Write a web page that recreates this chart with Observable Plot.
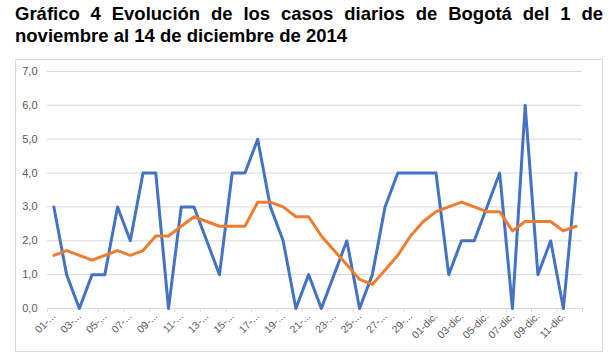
<!DOCTYPE html>
<html>
<head>
<meta charset="utf-8">
<script src="https://cdn.jsdelivr.net/npm/d3@7"></script>
<script src="https://cdn.jsdelivr.net/npm/@observablehq/plot@0.6"></script>
<style>
  html, body { margin: 0; padding: 0; background: #fff; }
  body { width: 614px; height: 361px; position: relative; overflow: hidden; }
  #title { position: absolute; left: 15px; top: 3px; width: 588px;
    font-family: "Liberation Sans", Arial, sans-serif; font-weight: bold; font-size: 18.5px;
    line-height: 22px; color: #000; }
  #title .l1 { text-align: justify; text-align-last: justify; white-space: nowrap; }
  #frame { position: absolute; left: 15px; top: 59px; width: 588px; height: 293px;
    box-sizing: border-box; border: 1px solid #d9d9d9; }
  #chart { position: absolute; left: 0; top: 59px; }
</style>
</head>
<body>
<div id="title"><div class="l1">Gráfico 4 Evolución de los casos diarios de Bogotá del 1 de</div><div>noviembre al 14 de diciembre de 2014</div></div>
<div id="frame"></div>
<div id="chart"></div>
<script>
// Categorías (días)
const dias = [
  "01-nov.","02-nov.","03-nov.","04-nov.","05-nov.","06-nov.","07-nov.","08-nov.","09-nov.","10-nov.",
  "11-nov.","12-nov.","13-nov.","14-nov.","15-nov.","16-nov.","17-nov.","18-nov.","19-nov.","20-nov.",
  "21-nov.","22-nov.","23-nov.","24-nov.","25-nov.","26-nov.","27-nov.","28-nov.","29-nov.","30-nov.",
  "01-dic.","02-dic.","03-dic.","04-dic.","05-dic.","06-dic.","07-dic.","08-dic.","09-dic.","10-dic.",
  "11-dic.","12-dic."
];
// Casos diarios (azul)
const casos = [3,1,0,1,1,3,2,4,4,0,3,3,2,1,4,4,5,3,2,0,1,0,1,2,0,1,3,4,4,4,4,1,2,2,3,4,0,6,1,2,0,4];
// Promedio móvil (naranja)
const media = [1.57,1.71,1.57,1.43,1.57,1.71,1.57,1.71,2.14,2.14,2.43,2.71,2.57,2.43,2.43,2.43,3.14,3.14,3.00,2.71,
  2.71,2.14,1.71,1.29,0.86,0.71,1.14,1.57,2.14,2.57,2.86,3.00,3.14,3.00,2.86,2.86,2.29,2.57,2.57,2.57,2.29,2.43];
// Etiquetas visibles del eje X
const etiquetas = ["01-...","03-...","05-...","07-...","09-...","11-...","13-...","15-...","17-...","19-...",
  "21-...","23-...","25-...","27-...","29-...","01-dic.","03-dic.","05-dic.","07-dic.","09-dic.","11-dic."];
const yTicks = [0,1,2,3,4,5,6,7];

const rows = dias.map((d, i) => ({i, dia: d, casos: casos[i], media: media[i]}));
const labelIdx = etiquetas.map((_, k) => k * 2);
const bounds = labelIdx.map(i => i - 0.5).concat([dias.length - 0.5]);
const gray = "#595959";

const chart = Plot.plot({
  width: 614,
  height: 293,
  marginLeft: 47,
  marginRight: 32,
  marginTop: 12,
  marginBottom: 44,
  style: {fontFamily: "'Liberation Sans', Arial, sans-serif", background: "transparent", overflow: "visible"},
  x: {type: "linear", domain: [-0.5, dias.length - 0.5]},
  y: {domain: [0, 7]},
  marks: [
    Plot.gridY(yTicks, {stroke: "#d9d9d9", strokeOpacity: 1, strokeWidth: 1}),
    Plot.axisY({ticks: yTicks, tickSize: 0, tickPadding: 10, label: null,
      tickFormat: d => d.toFixed(1).replace(".", ","), fill: gray, fontSize: 11}),
    Plot.axisX({ticks: bounds, tickSize: 4, stroke: "#d9d9d9", tickFormat: () => "", label: null}),
    Plot.axisX({ticks: labelIdx, tickSize: 0, tickPadding: 6, tickRotate: -45, label: null,
      tickFormat: i => etiquetas[i / 2], fill: gray, fontSize: 10.5}),
    Plot.line(rows, {x: "i", y: "casos", stroke: "#4472C4", strokeWidth: 3}),
    Plot.line(rows, {x: "i", y: "media", stroke: "#ED7D31", strokeWidth: 3})
  ]
});
document.getElementById("chart").appendChild(chart);
</script>
</body>
</html>
